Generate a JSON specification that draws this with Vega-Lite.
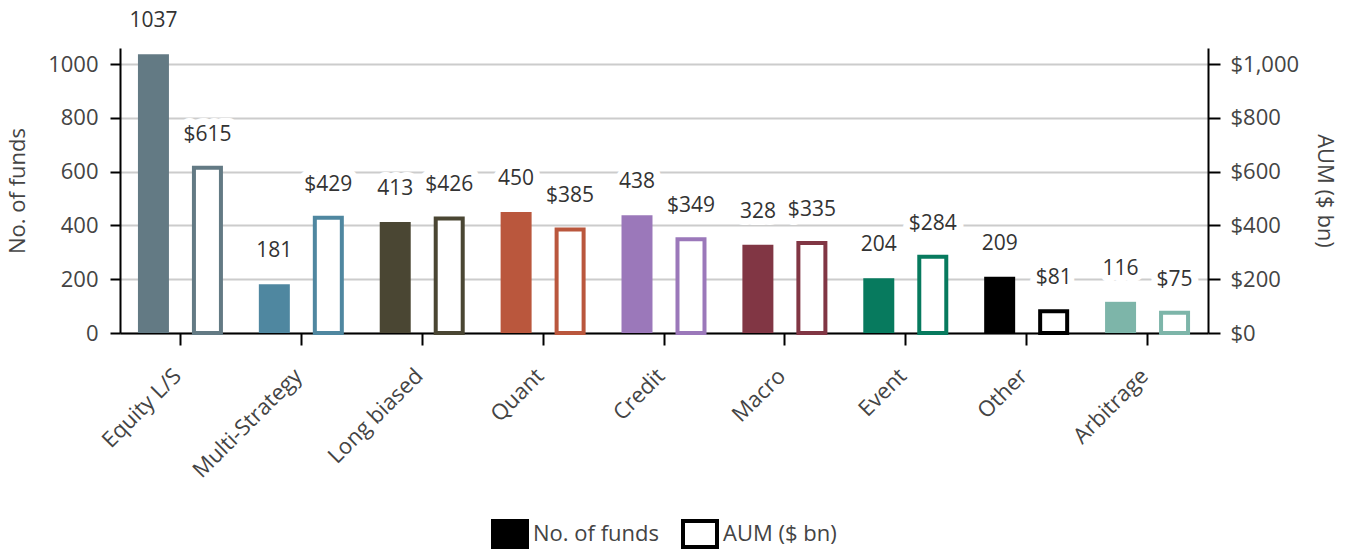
{
  "$schema": "https://vega.github.io/schema/vega-lite/v6.json",
  "width": 1088,
  "height": 285,
  "autosize": {"type": "none"},
  "padding": {"left": 120, "top": 48, "right": 143, "bottom": 218},
  "background": "white",
  "config": {
    "font": "Open Sans",
    "view": {"stroke": null},
    "axis": {
      "labelFont": "Open Sans",
      "titleFont": "Open Sans",
      "labelFontSize": 22,
      "titleFontSize": 22,
      "labelColor": "#444444",
      "titleColor": "#444444",
      "titleFontWeight": "normal",
      "domainColor": "#000000",
      "domainWidth": 2,
      "tickColor": "#000000",
      "tickWidth": 2,
      "gridColor": "#cccccc",
      "gridWidth": 2
    }
  },
  "data": {
    "values": [
      {"category": "Equity L/S", "funds": 1037, "aum": 615},
      {"category": "Multi-Strategy", "funds": 181, "aum": 429},
      {"category": "Long biased", "funds": 413, "aum": 426},
      {"category": "Quant", "funds": 450, "aum": 385},
      {"category": "Credit", "funds": 438, "aum": 349},
      {"category": "Macro", "funds": 328, "aum": 335},
      {"category": "Event", "funds": 204, "aum": 284},
      {"category": "Other", "funds": 209, "aum": 81},
      {"category": "Arbitrage", "funds": 116, "aum": 75}
    ]
  },
  "transform": [{"fold": ["funds", "aum"], "as": ["series", "value"]}],
  "encoding": {
    "x": {
      "field": "category",
      "type": "nominal",
      "sort": null,
      "scale": {"paddingInner": 0, "paddingOuter": 0},
      "axis": {"title": null, "labelAngle": -45, "tickSize": 12, "labelPadding": 20, "labelOffset": -10}
    },
    "xOffset": {
      "field": "series",
      "type": "nominal",
      "scale": {"domain": ["funds", "aum"], "paddingInner": 0.426, "paddingOuter": 0.3325}
    }
  },
  "layer": [
    {
      "transform": [{"filter": "datum.series == 'funds'"}],
      "mark": {"type": "text", "dy": -33, "baseline": "middle", "fontSize": 21, "fill": "white", "stroke": "white", "strokeWidth": 14, "strokeJoin": "round"},
      "encoding": {
        "y": {
          "field": "value", "type": "quantitative",
          "scale": {"domain": [0, 1060], "nice": false, "zero": true},
          "axis": {"orient": "left", "title": "No. of funds", "format": "d", "values": [0, 200, 400, 600, 800, 1000], "tickSize": 10, "labelPadding": 12, "titlePadding": 18, "grid": true}
        },
        "text": {"field": "value", "type": "quantitative", "format": "d"}
      }
    },
    {
      "transform": [{"filter": "datum.series == 'aum'"}],
      "mark": {"type": "text", "dy": -33, "baseline": "middle", "fontSize": 21, "fill": "white", "stroke": "white", "strokeWidth": 14, "strokeJoin": "round"},
      "encoding": {
        "y": {
          "field": "value", "type": "quantitative",
          "scale": {"domain": [0, 1060], "nice": false, "zero": true},
          "axis": {"orient": "right", "title": "AUM ($ bn)", "format": "$,.0f", "values": [0, 200, 400, 600, 800, 1000], "tickSize": 12, "labelPadding": 10, "titlePadding": 14, "grid": false}
        },
        "text": {"field": "value", "type": "quantitative", "format": "$,.0f"}
      }
    },
    {
      "transform": [{"filter": "datum.series == 'funds'"}],
      "mark": {"type": "bar"},
      "encoding": {
        "y": {"field": "value", "type": "quantitative", "scale": {"domain": [0, 1060], "nice": false, "zero": true}, "axis": null},
        "color": {
          "field": "category", "type": "nominal", "legend": null,
          "scale": {
            "domain": ["Equity L/S", "Multi-Strategy", "Long biased", "Quant", "Credit", "Macro", "Event", "Other", "Arbitrage"],
            "range": ["#637a84", "#4f87a0", "#4a4633", "#ba573d", "#9b78ba", "#813644", "#077a5e", "#000000", "#7db5a9"]
          }
        }
      }
    },
    {
      "transform": [{"filter": "datum.series == 'aum'"}],
      "mark": {"type": "bar", "fill": "white", "strokeWidth": 4, "width": 27},
      "encoding": {
        "y": {"field": "value", "type": "quantitative", "scale": {"domain": [0, 1060], "nice": false, "zero": true}, "axis": null},
        "stroke": {
          "field": "category", "type": "nominal", "legend": null,
          "scale": {
            "domain": ["Equity L/S", "Multi-Strategy", "Long biased", "Quant", "Credit", "Macro", "Event", "Other", "Arbitrage"],
            "range": ["#637a84", "#4f87a0", "#4a4633", "#ba573d", "#9b78ba", "#813644", "#077a5e", "#000000", "#7db5a9"]
          }
        }
      }
    },
    {
      "transform": [{"filter": "datum.series == 'funds'"}],
      "mark": {"type": "text", "dy": -33, "baseline": "middle", "fontSize": 21, "color": "#333333"},
      "encoding": {
        "y": {"field": "value", "type": "quantitative", "scale": {"domain": [0, 1060], "nice": false, "zero": true}, "axis": null},
        "text": {"field": "value", "type": "quantitative", "format": "d"}
      }
    },
    {
      "transform": [{"filter": "datum.series == 'aum'"}],
      "mark": {"type": "text", "dy": -33, "baseline": "middle", "fontSize": 21, "color": "#333333"},
      "encoding": {
        "y": {"field": "value", "type": "quantitative", "scale": {"domain": [0, 1060], "nice": false, "zero": true}, "axis": null},
        "text": {"field": "value", "type": "quantitative", "format": "$,.0f"}
      }
    },
    {
      "mark": {"type": "point", "shape": "square", "filled": true, "opacity": 0},
      "encoding": {
        "y": {"field": "value", "type": "quantitative", "scale": {"domain": [0, 1060], "nice": false, "zero": true}, "axis": null},
        "fill": {
          "field": "series", "type": "nominal",
          "scale": {"domain": ["funds", "aum"], "range": ["black", "white"]},
          "legend": {
            "orient": "none", "legendX": 368, "legendY": 464, "direction": "horizontal", "title": null,
            "symbolType": "M-0.85,-0.65H0.85V0.65H-0.85Z", "symbolSize": 1600,
            "symbolStrokeColor": "black", "symbolStrokeWidth": 4, "symbolOpacity": 1,
            "labelFontSize": 22, "labelColor": "#444444", "labelFont": "Open Sans",
            "labelOffset": 1, "columnPadding": 16,
            "labelExpr": "datum.label == 'funds' ? 'No. of funds' : 'AUM ($ bn)'"
          }
        }
      }
    }
  ],
  "resolve": {"scale": {"y": "independent"}}
}
